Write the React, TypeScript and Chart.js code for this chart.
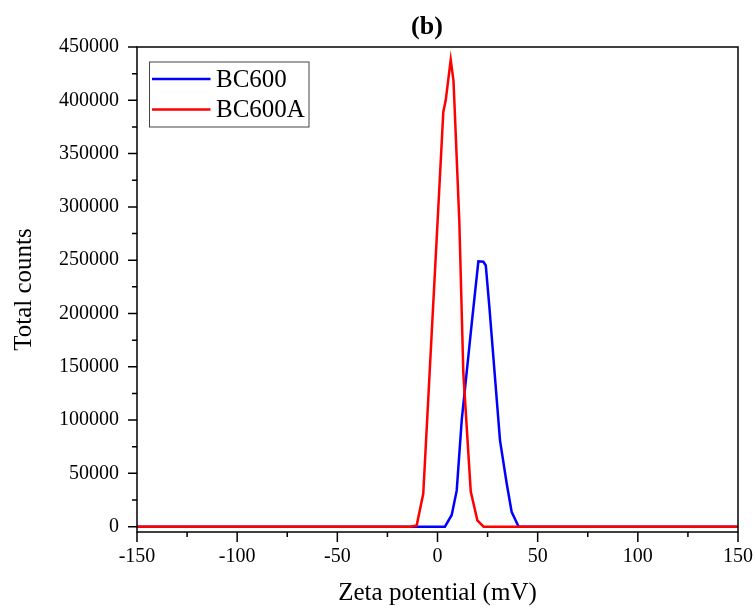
import React, { useEffect, useRef } from "react";
import { Chart, registerables } from "chart.js";

Chart.register(...registerables);

// Zeta potential (mV) / total counts
const bc600X = [-150, 3.7, 7.1, 9.6, 12.1, 13.7, 17.1, 20.4, 22.9, 24.1, 25.9, 27.0, 30.3, 31.2, 34.5, 37.0, 40.5, 150];
const bc600Y = [0, 0, 11000, 34000, 100000, 129000, 191000, 249000, 248500, 245000, 206000, 180000, 102000, 81000, 41000, 14000, 0, 0];

const bc600aX = [-150, -13.5, -10.4, -7.1, -3.8, -0.5, 2.9, 4.1, 6.6, 8.0, 10.9, 12.9, 16.6, 19.9, 23.0, 150];
const bc600aY = [0, 0, 1000, 31000, 149000, 267000, 389000, 400000, 438000, 418000, 286000, 144000, 33000, 6000, 0, 0];

const xTicks = [-150, -100, -50, 0, 50, 100, 150];
const yTicks = [0, 50000, 100000, 150000, 200000, 250000, 300000, 350000, 400000, 450000];

const seriesNames = ["BC600", "BC600A"];
const seriesColors = ["#0000ff", "#ff0000"];

const FONT = "'Liberation Serif', 'Times New Roman', serif";

const toPoints = (xs: number[], ys: number[]) => xs.map((x, i) => ({ x, y: ys[i] }));

const framePlugin = {
  id: "frameTicks",
  afterDraw(chart: any) {
    const { ctx, chartArea } = chart;
    const xs = chart.scales.x;
    const ys = chart.scales.y;
    const { left, right, top, bottom } = chartArea;
    ctx.save();
    ctx.strokeStyle = "#000";
    ctx.lineWidth = 1.5;
    ctx.strokeRect(left, top, right - left, bottom - top);
    ctx.beginPath();
    for (let i = 0; i < xTicks.length; i++) {
      const px = xs.getPixelForValue(xTicks[i]);
      ctx.moveTo(px, bottom);
      ctx.lineTo(px, bottom + 10);
      if (i < xTicks.length - 1) {
        const mx = xs.getPixelForValue((xTicks[i] + xTicks[i + 1]) / 2);
        ctx.moveTo(mx, bottom);
        ctx.lineTo(mx, bottom + 5);
      }
    }
    for (let i = 0; i < yTicks.length; i++) {
      const py = ys.getPixelForValue(yTicks[i]);
      ctx.moveTo(left, py);
      ctx.lineTo(left - 9, py);
      if (i < yTicks.length - 1) {
        const my = ys.getPixelForValue((yTicks[i] + yTicks[i + 1]) / 2);
        ctx.moveTo(left, my);
        ctx.lineTo(left - 5, my);
      }
    }
    ctx.stroke();

    // legend
    const lx = 149.5, ly = 62, lw = 159.5, lh = 65;
    ctx.strokeStyle = "#444";
    ctx.lineWidth = 1;
    ctx.fillStyle = "#fff";
    ctx.fillRect(lx, ly, lw, lh);
    ctx.strokeRect(lx, ly, lw, lh);
    ctx.font = `25px ${FONT}`;
    ctx.textBaseline = "middle";
    ctx.textAlign = "left";
    const rows = [79, 109.5];
    for (let i = 0; i < seriesNames.length; i++) {
      ctx.strokeStyle = seriesColors[i];
      ctx.lineWidth = 2.5;
      ctx.beginPath();
      ctx.moveTo(152, rows[i]);
      ctx.lineTo(210.5, rows[i]);
      ctx.stroke();
      ctx.fillStyle = "#000";
      ctx.fillText(seriesNames[i], 216, rows[i] + 1);
    }

    // title
    ctx.font = `bold 26px ${FONT}`;
    ctx.textAlign = "center";
    ctx.fillStyle = "#000";
    ctx.fillText("(b)", 427, 27);
    ctx.restore();
  },
};

export default function App() {
  const ref = useRef<HTMLCanvasElement | null>(null);
  useEffect(() => {
    document.body.style.margin = "0";
    const canvas = ref.current;
    if (!canvas) return;
    const chart = new Chart(canvas, {
      type: "scatter",
      data: {
        datasets: [
          {
            label: seriesNames[0],
            data: toPoints(bc600X, bc600Y),
            showLine: true,
            borderColor: seriesColors[0],
            backgroundColor: seriesColors[0],
            borderWidth: 2.5,
            pointRadius: 0,
            tension: 0,
            order: 1,
          },
          {
            label: seriesNames[1],
            data: toPoints(bc600aX, bc600aY),
            showLine: true,
            borderColor: seriesColors[1],
            backgroundColor: seriesColors[1],
            borderWidth: 2.5,
            pointRadius: 0,
            tension: 0,
            order: 0,
          },
        ],
      },
      options: {
        animation: false,
        responsive: false,
        maintainAspectRatio: false,
        layout: { padding: { top: 47, right: 17, left: 0, bottom: 0 } },
        plugins: {
          legend: { display: false },
          title: { display: false },
          tooltip: { enabled: false },
        },
        scales: {
          x: {
            type: "linear",
            min: -150,
            max: 150,
            afterBuildTicks: (s: any) => {
              s.ticks = xTicks.map((v) => ({ value: v }));
            },
            afterFit: (s: any) => {
              s.height = 76;
              s.paddingLeft = 0;
              s.paddingRight = 0;
            },
            grid: { display: false, drawTicks: false },
            border: { display: false },
            ticks: {
              color: "#000",
              font: { family: FONT, size: 20 },
              padding: 13,
              maxRotation: 0,
              autoSkip: false,
              callback: (v: any) => String(v),
            },
            title: {
              display: true,
              text: "Zeta potential (mV)",
              color: "#000",
              font: { family: FONT, size: 25 },
              padding: { top: 0, bottom: 0 },
            },
          },
          y: {
            type: "linear",
            min: -5000,
            max: 450000,
            afterBuildTicks: (s: any) => {
              s.ticks = yTicks.map((v) => ({ value: v }));
            },
            afterFit: (s: any) => {
              s.width = 137;
              s.paddingTop = 0;
              s.paddingBottom = 0;
            },
            grid: { display: false, drawTicks: false },
            border: { display: false },
            ticks: {
              color: "#000",
              font: { family: FONT, size: 20 },
              padding: 18,
              autoSkip: false,
              callback: (v: any) => String(v),
            },
            title: {
              display: true,
              text: "Total counts",
              color: "#000",
              font: { family: FONT, size: 25 },
              padding: { top: 9, bottom: 0 },
            },
          },
        },
      },
      plugins: [framePlugin],
    });
    return () => chart.destroy();
  }, []);
  return (
    <div style={{ width: 755, height: 608 }}>
      <canvas ref={ref} width={755} height={608} style={{ display: "block" }} />
    </div>
  );
}
